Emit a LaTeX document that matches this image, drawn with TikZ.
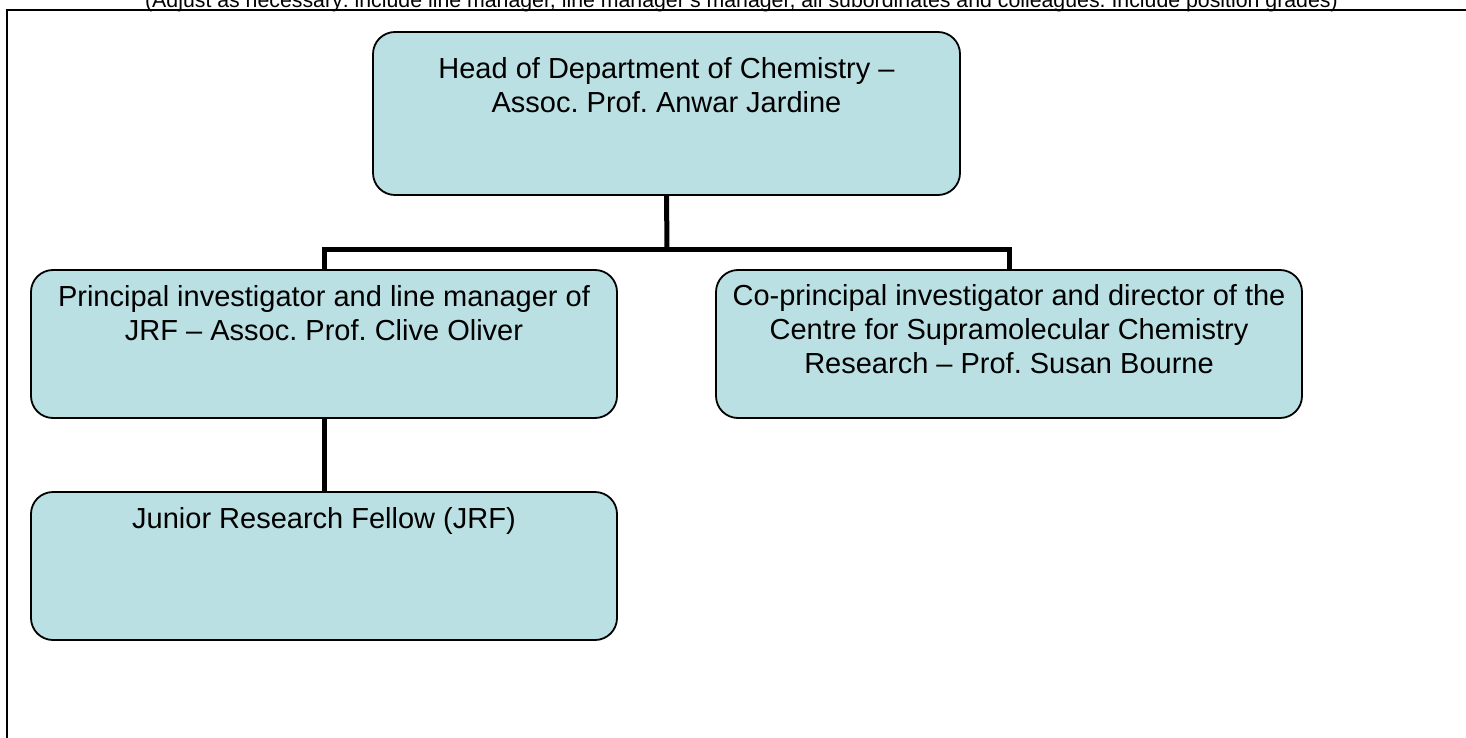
\documentclass[tikz,border=0pt]{standalone}
\usepackage{fontspec}
\setmainfont{Liberation Sans}
\usetikzlibrary{backgrounds}
\definecolor{boxfill}{RGB}{187,224,227}
\frenchspacing
\begin{document}
\begin{tikzpicture}[x=1pt,y=-1pt,
  orgbox/.style={draw=black, line width=1.8pt, fill=boxfill, rounded corners=22pt,
    minimum width=586pt, minimum height=148pt, inner sep=0pt, outer sep=0pt, anchor=north west},
  orgtext/.style={anchor=north, align=center, inner sep=0pt, font=\fontsize{29}{34}\selectfont},
  conn/.style={line width=5pt, draw=black},
  frameline/.style={line width=2.5pt, draw=black}]
\useasboundingbox (0,0) rectangle (1466,738);
\clip (0,0) rectangle (1466,738);

% page note (clipped at top, as in the reference)
\node[anchor=base, inner sep=0pt, font=\fontsize{21.3}{24}\selectfont] (note) at (741.5,7.7)
  {(Adjust as necessary: include line manager, line manager's manager, all subordinates and colleagues. Include position grades)};

% frame
\coordinate (fbl) at (7,740);
\coordinate (ftl) at (7,10);
\coordinate (ftr) at (1470,10);
\draw[frameline] (fbl) -- (ftl) -- (ftr);

% boxes
\node[orgbox, minimum width=587pt, minimum height=163pt] (top) at (373,32) {};
\node[orgbox] (left) at (31,270) {};
\node[orgbox] (right) at (716,270) {};
\node[orgbox] (bottom) at (31,492) {};

% texts
\node[orgtext] (ttop) at (top.north) {\rule{0pt}{46pt}Head of Department of Chemistry --\\Assoc. Prof. Anwar Jardine};
\node[orgtext] (tleft) at (left.north) {\rule{0pt}{36pt}Principal investigator and line manager of\\JRF -- Assoc. Prof. Clive Oliver};
\node[orgtext] (tright) at (right.north) {\rule{0pt}{35pt}Co-principal investigator and director of the\\Centre for Supramolecular Chemistry\\Research -- Prof. Susan Bourne};
\node[orgtext] (tbottom) at (bottom.north) {\rule{0pt}{36pt}Junior Research Fellow (JRF)};

% connectors
\coordinate (jn) at (667,249);
\begin{scope}[on background layer]
\draw[conn] (top.south) -- (jn);
\draw[conn] (left.north) |- (jn) -| (right.north);
\draw[conn] (left.south) -- (bottom.north);
\end{scope}
\end{tikzpicture}
\end{document}
